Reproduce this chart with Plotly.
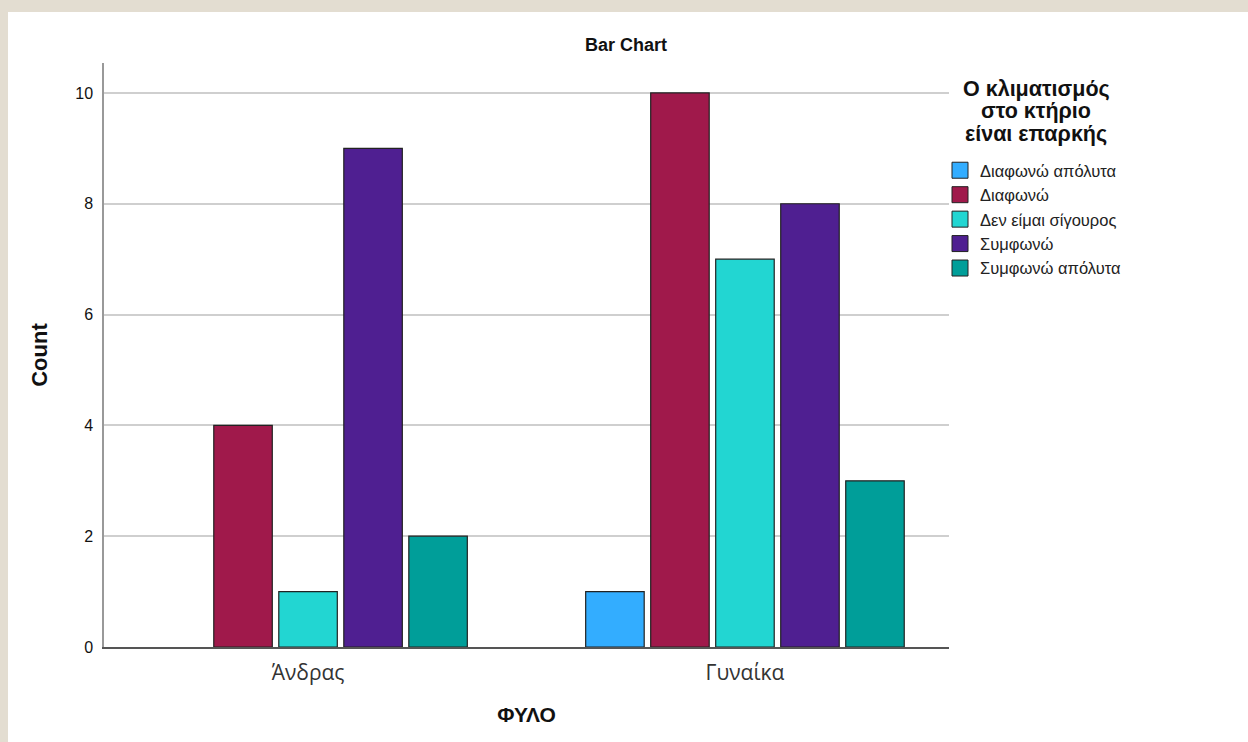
import plotly.graph_objects as go

# Data
genders = ["Άνδρας", "Γυναίκα"]
responses = ["Διαφωνώ απόλυτα", "Διαφωνώ", "Δεν είμαι σίγουρος", "Συμφωνώ", "Συμφωνώ απόλυτα"]
counts = {
    "Διαφωνώ απόλυτα": [None, 1],
    "Διαφωνώ": [4, 10],
    "Δεν είμαι σίγουρος": [1, 7],
    "Συμφωνώ": [9, 8],
    "Συμφωνώ απόλυτα": [2, 3],
}
colors = ["#33adff", "#a0194b", "#22d6d2", "#4f1f91", "#009e99"]
y_ticks = [0, 2, 4, 6, 8, 10]
legend_title = ["Ο κλιματισμός", "στο κτήριο", "είναι επαρκής"]

W, H = 1248, 742
L, R, T, B = 104, W - 949, 63, H - 647
pw, ph = W - L - R, H - T - B

def px_x(p):
    return (p - L) / pw

def px_y(p):
    return (H - B - p) / ph

fig = go.Figure()
for name, col in zip(responses, colors):
    fig.add_trace(go.Bar(
        x=genders, y=counts[name], name=name, legendgroup=name, showlegend=False,
        marker=dict(color=col, line=dict(color="#222222", width=1.2)),
    ))
# legend swatches (larger outlined squares)
for name, col in zip(responses, colors):
    fig.add_trace(go.Scatter(
        x=[None], y=[None], mode="markers", name=name, legendgroup=name,
        marker=dict(symbol="square", size=16, color=col, line=dict(color="#222222", width=1)),
        hoverinfo="skip",
    ))

# legend heading, one line per annotation
for i, line in enumerate(legend_title):
    fig.add_annotation(
        text=f"<b>{line}</b>", xref="paper", yref="paper",
        x=px_x(1036), y=px_y(89 + 22.5 * i), xanchor="center", yanchor="middle",
        showarrow=False, font=dict(size=21.5, color="#111111"),
    )

fig.update_layout(
    width=W, height=H,
    margin=dict(l=L, r=R, t=T, b=B),
    paper_bgcolor="#e3ddd1",
    plot_bgcolor="white",
    barmode="group",
    bargap=0.256,
    bargroupgap=0.1,
    font=dict(family="Liberation Sans, Arial, sans-serif", color="#111111"),
    title=dict(
        text="<b>Bar Chart</b>", x=626 / W, xref="container", xanchor="center",
        y=1 - 45 / H, yref="container", yanchor="middle",
        font=dict(size=18, color="#111111"),
    ),
    xaxis=dict(
        range=[-0.467, 1.467],
        showline=True, linecolor="#555555", linewidth=1.5,
        ticks="", showgrid=False, ticklabelstandoff=6,
        tickfont=dict(family="Open Sans, sans-serif", size=21, color="#333333"),
        title=dict(text="<b>ΦΥΛΟ</b>", font=dict(size=21, color="#111111"), standoff=22),
    ),
    yaxis=dict(
        range=[0, 10.54],
        tickvals=y_ticks,
        showline=True, linecolor="#999999", linewidth=1.5,
        showgrid=True, gridcolor="#cfcfcf", gridwidth=1.5,
        zeroline=False, ticks="", ticklabelstandoff=6,
        tickfont=dict(size=16, color="#111111"),
        title=dict(text="<b>Count</b>", font=dict(size=22, color="#111111"), standoff=22),
    ),
    legend=dict(
        x=px_x(940), xanchor="left", y=px_y(153), yanchor="top",
        bgcolor="rgba(0,0,0,0)",
        font=dict(size=16.5, color="#222222"),
        itemwidth=30,
        tracegroupgap=0,
    ),
    shapes=[dict(
        type="rect", xref="paper", yref="paper", layer="below",
        x0=px_x(8), x1=px_x(W + 5), y0=px_y(H + 5), y1=px_y(12),
        fillcolor="white", line=dict(width=0),
    )],
)

fig.write_html("out.html")
